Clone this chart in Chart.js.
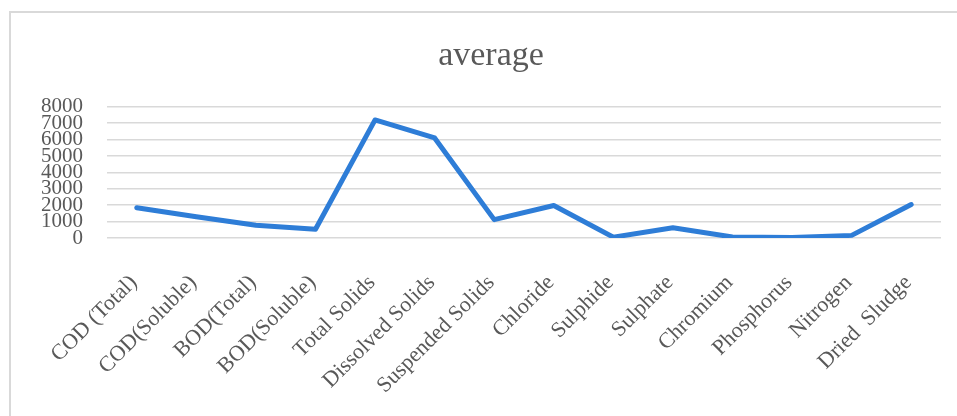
<!DOCTYPE html>
<html>
<head>
<meta charset="utf-8">
<script src="https://cdn.jsdelivr.net/npm/chart.js@4/dist/chart.umd.min.js"></script>
<style>
  html, body { margin: 0; padding: 0; background: #fff; overflow: hidden; }
  #frame {
    position: absolute; left: 9px; top: 11px; width: 960px; height: 420px;
    border-left: 2px solid #d9d9d9; border-top: 2px solid #d9d9d9;
  }
  #wrap { position: absolute; left: 0; top: 0; width: 957px; height: 416px; }
</style>
</head>
<body>
<div id="frame"></div>
<div id="wrap"><canvas id="myChart" width="957" height="416"></canvas></div>
<script>
const categories = ['COD (Total)', 'COD(Soluble)', 'BOD(Total)', 'BOD(Soluble)', 'Total Solids',
  'Dissolved Solids', 'Suspended Solids', 'Chloride', 'Sulphide', 'Sulphate', 'Chromium',
  'Phosphorus', 'Nitrogen', 'Dried  Sludge'];
const average = [1850, 1300, 780, 530, 7200, 6100, 1120, 1980, 50, 630, 60, 30, 160, 2040];
const yMin = 0;
const yMax = 8000;
const yStep = 1000;

const textColor = '#595959';
const fontFamily = "'Liberation Serif', 'Times New Roman', serif";

const ctx = document.getElementById('myChart').getContext('2d');
new Chart(ctx, {
  type: 'line',
  data: {
    labels: categories,
    datasets: [
      {
        label: 'average',
        data: average,
        borderColor: '#2e7dd7',
        borderWidth: 5,
        borderJoinStyle: 'round',
        borderCapStyle: 'round',
        pointRadius: 0,
        tension: 0,
        fill: false,
      },
    ],
  },
  options: {
    responsive: false,
    animation: false,
    layout: { padding: { left: 41, right: 16, top: 0, bottom: 0 } },
    plugins: {
      legend: { display: false },
      tooltip: { enabled: false },
      title: {
        display: true,
        text: 'average',
        color: textColor,
        font: { family: fontFamily, size: 34, weight: 'normal', lineHeight: 1.2 },
        padding: { top: 36, bottom: 30 },
      },
    },
    scales: {
      x: {
        offset: true,
        grid: { display: false, drawTicks: false },
        border: { display: false },
        ticks: {
          color: textColor,
          font: { family: fontFamily, size: 22 },
          minRotation: 45,
          maxRotation: 45,
          autoSkip: false,
          padding: 32,
          labelOffset: -3,
        },
        afterFit: (scale) => {
          scale.height = 178;
          scale.paddingLeft = 0;
          scale.paddingRight = 0;
        },
      },
      y: {
        min: yMin,
        max: yMax,
        grid: { color: '#d9d9d9', lineWidth: 1.5, drawTicks: false },
        border: { display: false },
        ticks: {
          stepSize: yStep,
          autoSkip: false,
          color: textColor,
          font: { family: fontFamily, size: 21, lineHeight: 1 },
          padding: 24,
          callback: (v) => String(v),
        },
        afterFit: (scale) => { scale.width = 66; },
      },
    },
  },
});
</script>
</body>
</html>
